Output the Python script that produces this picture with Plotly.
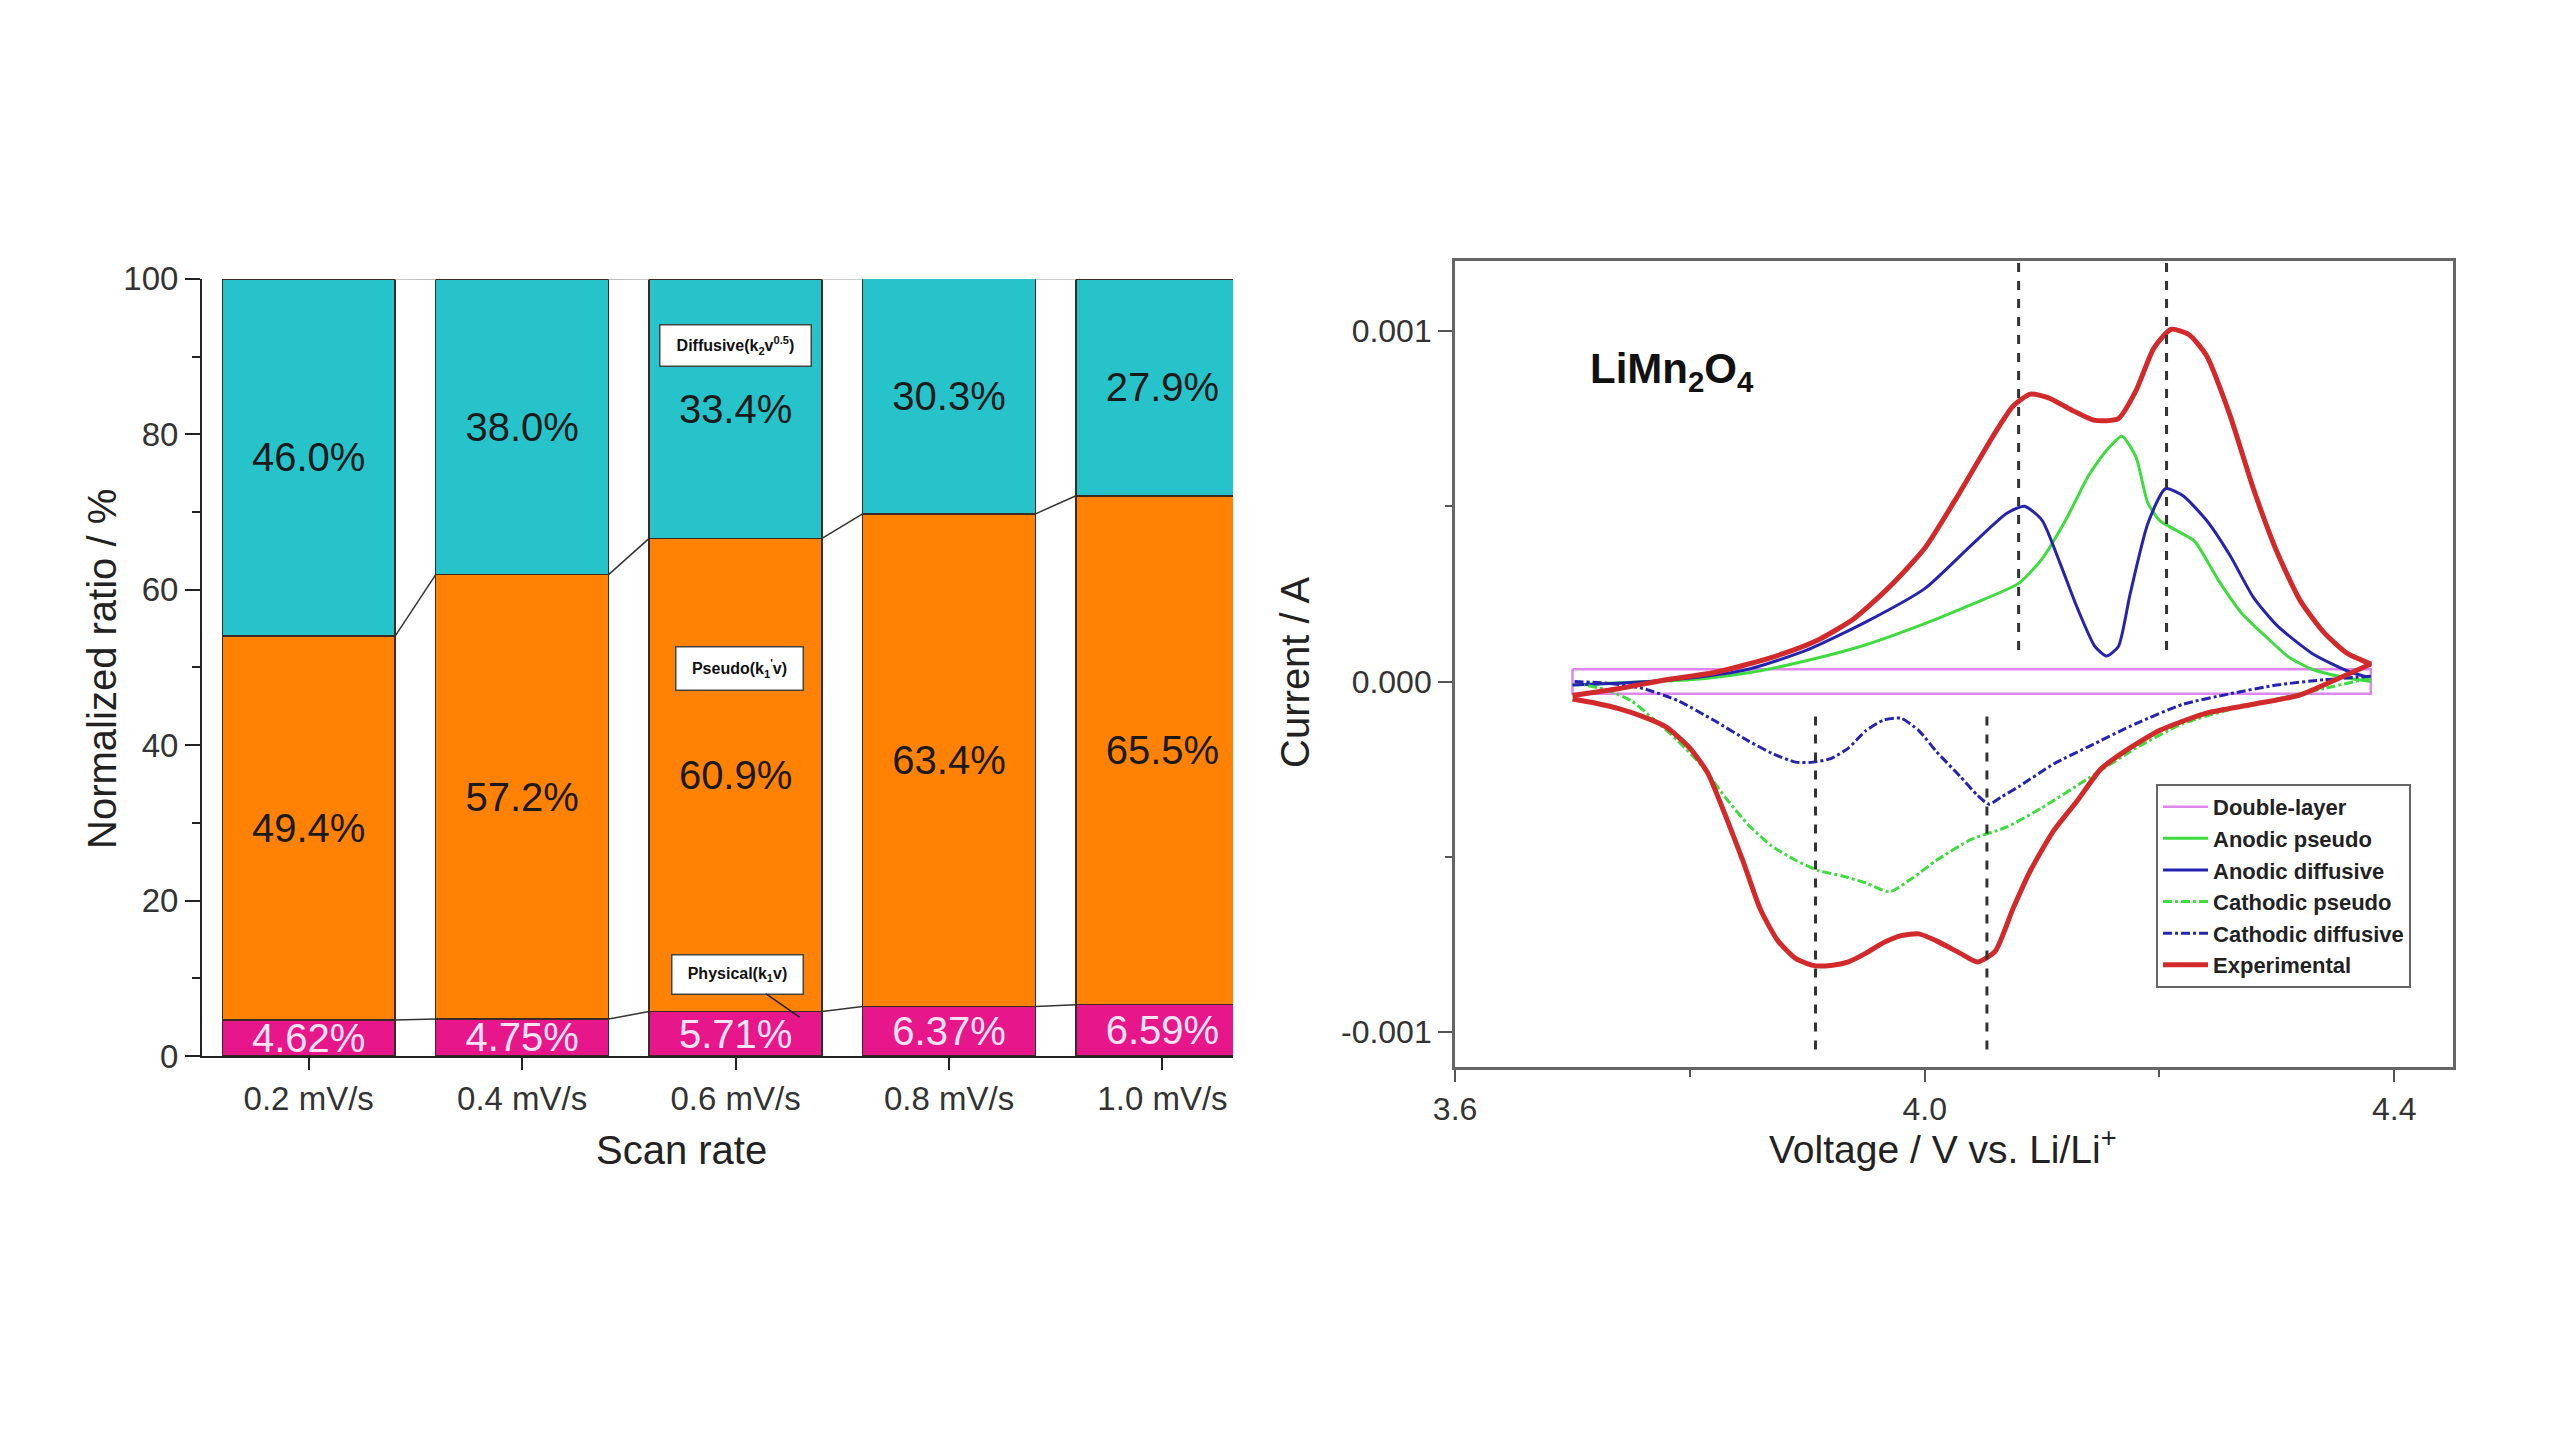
import plotly.graph_objects as go

# ---------------- Left panel data ----------------
scan_rates = ["0.2 mV/s", "0.4 mV/s", "0.6 mV/s", "0.8 mV/s", "1.0 mV/s"]
physical = [4.62, 4.75, 5.71, 6.37, 6.59]
pseudo = [49.4, 57.2, 60.9, 63.4, 65.5]
diffusive = [46.0, 38.0, 33.4, 30.3, 27.9]
ratio_ticks = [0, 20, 40, 60, 80, 100]
ratio_minor = [10, 30, 50, 70, 90]

# ---------------- Right panel data ----------------
exp_an_v = [3.70, 3.74, 3.78, 3.82, 3.85, 3.88, 3.91, 3.94, 3.97, 4.00, 4.03, 4.06, 4.075, 4.09,
            4.105, 4.125, 4.145, 4.165, 4.18, 4.195, 4.21, 4.225, 4.24, 4.26, 4.28, 4.30, 4.32, 4.34,
            4.36, 4.38]
exp_an_i = [-0.4, -0.2, 0.05, 0.25, 0.5, 0.8, 1.2, 1.8, 2.7, 3.8, 5.4, 7.1, 7.85, 8.2,
            8.1, 7.75, 7.45, 7.5, 8.3, 9.5, 10.05, 9.9, 9.3, 7.6, 5.5, 3.7, 2.3, 1.4,
            0.8, 0.5]
exp_ca_v = [4.38, 4.35, 4.32, 4.28, 4.24, 4.20, 4.17, 4.15, 4.13, 4.11, 4.09, 4.075, 4.06, 4.045,
            4.03, 4.01, 3.995, 3.98, 3.965, 3.95, 3.935, 3.92, 3.905, 3.89, 3.875, 3.86, 3.845,
            3.83, 3.815, 3.80, 3.78, 3.76, 3.74, 3.72, 3.70]
exp_ca_i = [0.5, 0.05, -0.38, -0.65, -0.9, -1.4, -2.0, -2.5, -3.4, -4.25, -5.4, -6.5, -7.7, -8.0,
            -7.75, -7.4, -7.2, -7.25, -7.45, -7.75, -8.0, -8.1, -8.1, -7.9, -7.4, -6.5, -5.1,
            -3.8, -2.6, -1.9, -1.3, -1.0, -0.78, -0.62, -0.5]
apse_v = [3.70, 3.75, 3.80, 3.85, 3.90, 3.95, 4.00, 4.04, 4.08, 4.10, 4.12, 4.14, 4.155, 4.168,
          4.18, 4.19, 4.20, 4.215, 4.23, 4.25, 4.27, 4.29, 4.31, 4.33, 4.36, 4.38]
apse_i = [-0.1, -0.02, 0.05, 0.25, 0.6, 1.05, 1.65, 2.2, 2.8, 3.5, 4.6, 5.9, 6.6, 7.0,
          6.4, 5.1, 4.6, 4.3, 4.0, 2.9, 1.95, 1.3, 0.7, 0.35, 0.1, 0.0]
adif_v = [3.70, 3.75, 3.80, 3.85, 3.90, 3.95, 4.00, 4.04, 4.07, 4.085, 4.10, 4.115, 4.13, 4.145,
          4.155, 4.165, 4.175, 4.19, 4.205, 4.22, 4.24, 4.26, 4.28, 4.30, 4.33, 4.36, 4.38]
adif_i = [-0.1, -0.03, 0.1, 0.35, 0.9, 1.7, 2.65, 3.9, 4.8, 5.0, 4.6, 3.4, 2.1, 1.0,
          0.73, 1.0, 2.5, 4.5, 5.5, 5.3, 4.6, 3.6, 2.4, 1.6, 0.8, 0.3, 0.1]
cpse_v = [4.38, 4.34, 4.30, 4.26, 4.22, 4.18, 4.14, 4.10, 4.07, 4.04, 4.01, 3.99, 3.97, 3.95,
          3.93, 3.91, 3.89, 3.87, 3.85, 3.83, 3.81, 3.79, 3.77, 3.75, 3.73, 3.71]
cpse_i = [0.1, -0.2, -0.5, -0.8, -1.2, -1.9, -2.75, -3.6, -4.15, -4.5, -5.1, -5.6, -6.0, -5.75,
          -5.55, -5.4, -5.1, -4.7, -4.1, -3.3, -2.4, -1.7, -1.1, -0.55, -0.25, -0.1]
cdif_v = [4.38, 4.34, 4.30, 4.26, 4.22, 4.18, 4.14, 4.11, 4.08, 4.065, 4.055, 4.045, 4.03, 4.01,
          3.995, 3.98, 3.965, 3.95, 3.935, 3.92, 3.905, 3.89, 3.87, 3.85, 3.82, 3.79, 3.76,
          3.73, 3.70]
cdif_i = [0.15, 0.05, -0.1, -0.35, -0.65, -1.2, -1.85, -2.35, -3.0, -3.3, -3.5, -3.25, -2.7, -2.0,
          -1.4, -1.05, -1.1, -1.4, -1.9, -2.2, -2.3, -2.3, -2.05, -1.7, -1.1, -0.55, -0.2,
          -0.05, 0.0]
dl_v = [3.70, 4.38, 4.38, 3.70, 3.70]
dl_i = [0.35, 0.35, -0.35, -0.35, 0.35]
current_unit = 1e-4  # current values above are in units of 1e-4 A

anodic_peaks = [4.08, 4.206]
cathodic_peaks = [3.907, 4.053]
anodic_line_span = [0.00009, 0.0012]
cathodic_line_span = [-0.00105, -0.000082]

volt_ticks = [3.6, 4.0, 4.4]
volt_minor = [3.8, 4.2]
cur_ticks = [-0.001, 0.0, 0.001]
cur_ticklabels = ["-0.001", "0.000", "0.001"]
cur_minor = [-0.0005, 0.0005]

FONT = "Liberation Sans, Arial, sans-serif"
TEAL = "#27c3cb"
ORANGE = "#ff8204"
MAGENTA = "#e8168b"
BAR_W = 0.81

fig = go.Figure()

# ---------------- Stacked bars ----------------
xs = list(range(len(scan_rates)))
segments = [
    (physical, MAGENTA, [f"{v:.2f}%" for v in physical], "#fde4f5"),
    (pseudo, ORANGE, [f"{v:.1f}%" for v in pseudo], "#1a1a1a"),
    (diffusive, TEAL, [f"{v:.1f}%" for v in diffusive], "#1a1a1a"),
]
for vals, col, labels, tcol in segments:
    fig.add_trace(go.Bar(
        x=xs, y=vals, marker=dict(color=col, line=dict(color="#3a2b22", width=1.5)),
        width=BAR_W, text=labels, textposition="inside", insidetextanchor="middle",
        textangle=0, constraintext="none",
        textfont=dict(family=FONT, size=40, color=tcol),
        showlegend=False, xaxis="x", yaxis="y", hoverinfo="skip"))

# connecting lines between stacked boundaries
cum1 = physical
cum2 = [a + b for a, b in zip(physical, pseudo)]
cum3 = [a + b + c for a, b, c in zip(physical, pseudo, diffusive)]
for level, lc in [(cum1, "#333333"), (cum2, "#333333"), (cum3, "#bbbbbb")]:
    lx, ly = [], []
    for i in range(len(xs) - 1):
        lx += [xs[i] + BAR_W / 2, xs[i + 1] - BAR_W / 2, None]
        ly += [min(level[i], 100), min(level[i + 1], 100), None]
    fig.add_trace(go.Scatter(x=lx, y=ly, mode="lines", line=dict(color=lc, width=1.5),
                             showlegend=False, xaxis="x", yaxis="y", hoverinfo="skip"))

# ---------------- CV curves ----------------
def cur(arr):
    return [v * current_unit for v in arr]

fig.add_trace(go.Scatter(x=dl_v, y=cur(dl_i), mode="lines", name="Double-layer",
                         line=dict(color="#de86ec", width=2.5), xaxis="x2", yaxis="y2"))
fig.add_trace(go.Scatter(x=apse_v, y=cur(apse_i), mode="lines", name="Anodic pseudo",
                         line=dict(color="#3fdc3f", width=3, shape="spline", smoothing=0.6),
                         xaxis="x2", yaxis="y2"))
fig.add_trace(go.Scatter(x=adif_v, y=cur(adif_i), mode="lines", name="Anodic diffusive",
                         line=dict(color="#2424b0", width=3, shape="spline", smoothing=0.6),
                         xaxis="x2", yaxis="y2"))
fig.add_trace(go.Scatter(x=cpse_v, y=cur(cpse_i), mode="lines", name="Cathodic pseudo",
                         line=dict(color="#3fdc3f", width=3, dash="dashdot", shape="spline", smoothing=0.6),
                         xaxis="x2", yaxis="y2"))
fig.add_trace(go.Scatter(x=cdif_v, y=cur(cdif_i), mode="lines", name="Cathodic diffusive",
                         line=dict(color="#2424b0", width=3, dash="dashdot", shape="spline", smoothing=0.6),
                         xaxis="x2", yaxis="y2"))
fig.add_trace(go.Scatter(x=exp_an_v + exp_ca_v, y=cur(exp_an_i) + cur(exp_ca_i), mode="lines",
                         name="Experimental",
                         line=dict(color="#d22a2a", width=5, shape="spline", smoothing=0.6),
                         xaxis="x2", yaxis="y2"))

shapes = []
for v in anodic_peaks:
    shapes.append(dict(type="line", xref="x2", yref="y2", x0=v, x1=v,
                       y0=anodic_line_span[0], y1=anodic_line_span[1],
                       line=dict(color="#333333", width=3, dash="dash")))
for v in cathodic_peaks:
    shapes.append(dict(type="line", xref="x2", yref="y2", x0=v, x1=v,
                       y0=cathodic_line_span[0], y1=cathodic_line_span[1],
                       line=dict(color="#333333", width=3, dash="dash")))

def title_ann(text, x, y, angle=0, size=40):
    return dict(text=text, xref="paper", yref="paper", x=x, y=y, xanchor="center",
                yanchor="middle", textangle=angle, showarrow=False,
                font=dict(family=FONT, size=size, color="#222"))

annotations = [
    title_ann("Normalized ratio / %", 0.0398, 0.5354, -90),
    title_ann("Scan rate", 0.2664, 0.2015),
    title_ann("Current / A", 0.5058, 0.5333, -90),
    title_ann("Voltage / V vs. Li/Li<sup>+</sup>", 0.759, 0.2035, 0, 39),
    dict(text="<b>LiMn<sub>2</sub>O<sub>4</sub></b>", xref="paper", yref="paper", x=0.653, y=0.742,
         xanchor="center", yanchor="middle",
         showarrow=False, font=dict(family=FONT, size=42, color="#111")),
    dict(text="<b>Diffusive(k<sub>2</sub>v<sup>0.5</sup>)</b>", xref="x", yref="y", x=2.0, y=91.4,
         showarrow=False, bgcolor="white", bordercolor="#444", borderwidth=1.5,
         width=148, height=38, font=dict(family=FONT, size=16, color="#111")),
    dict(text="<b>Pseudo(k<sub>1</sub><sup>'</sup>v)</b>", xref="x", yref="y", x=2.02, y=49.8,
         showarrow=False, bgcolor="white", bordercolor="#444", borderwidth=1.5,
         width=124, height=40, font=dict(family=FONT, size=16, color="#111")),
    dict(text="<b>Physical(k<sub>1</sub>v)</b>", xref="x", yref="y", x=2.30, y=5.0,
         showarrow=True, arrowhead=0, arrowwidth=1.5, arrowcolor="#222", ax=-62, ay=-43,
         bgcolor="white", bordercolor="#444", borderwidth=1.5,
         width=128, height=36, font=dict(family=FONT, size=16, color="#111")),
]

tickfont = dict(family=FONT, size=33, color="#333")
fig.update_layout(
    template="none",
    width=2560, height=1440, margin=dict(l=0, r=0, t=0, b=0, pad=0, autoexpand=False),
    paper_bgcolor="white", plot_bgcolor="rgba(0,0,0,0)",
    barmode="stack", bargap=0.19,
    shapes=shapes, annotations=annotations,
    xaxis=dict(domain=[0.0789, 0.4816], range=[-0.5, 4.33], tickmode="array", tickvals=xs,
               ticktext=scan_rates, showline=True, linecolor="#222", linewidth=2,
               ticks="outside", ticklen=12, tickwidth=2, tickcolor="#222", automargin=False,
               showgrid=False, zeroline=False, tickfont=tickfont, anchor="y"),
    yaxis=dict(domain=[0.2667, 0.8063], range=[0, 100], tickmode="array", tickvals=ratio_ticks,
               showline=True, linecolor="#222", linewidth=2, ticks="outside", ticklen=15,
               tickwidth=2, tickcolor="#222", showgrid=False, zeroline=False, automargin=False,
               tickfont=tickfont, anchor="x",
               minor=dict(tickvals=ratio_minor, ticks="outside", ticklen=8, tickwidth=2,
                          tickcolor="#222", showgrid=False)),
    xaxis2=dict(domain=[0.5684, 0.9582], range=[3.6, 4.45], tickmode="array", tickvals=volt_ticks,
                ticktext=[f"{v:.1f}" for v in volt_ticks], showline=True, mirror=True,
                linecolor="#666", linewidth=3, ticks="outside", ticklen=12, tickwidth=2,
                tickcolor="#555", showgrid=False, zeroline=False, automargin=False,
                tickfont=dict(family=FONT, size=32, color="#333"), anchor="y2",
                minor=dict(tickvals=volt_minor, ticks="outside", ticklen=7, tickwidth=2,
                           tickcolor="#555", showgrid=False)),
    yaxis2=dict(domain=[0.259, 0.8188], range=[-0.0011, 0.0012], tickmode="array",
                tickvals=cur_ticks, ticktext=cur_ticklabels, showline=True, mirror=True,
                linecolor="#666", linewidth=3, ticks="outside", ticklen=14, tickwidth=2,
                tickcolor="#555", showgrid=False, zeroline=False, automargin=False,
                tickfont=dict(family=FONT, size=32, color="#333"), anchor="x2",
                minor=dict(tickvals=cur_minor, ticks="outside", ticklen=7, tickwidth=2,
                           tickcolor="#555", showgrid=False)),
    legend=dict(x=0.8422, y=0.4556, xanchor="left", yanchor="top", bgcolor="white",
                bordercolor="#666", borderwidth=2, tracegroupgap=0, traceorder="normal",
                itemwidth=45,
                font=dict(family=FONT, size=22, color="#222", weight="bold")),
)

fig.write_html("out.html", config={"displayModeBar": False},
               post_script="document.body.style.margin='0px';")
